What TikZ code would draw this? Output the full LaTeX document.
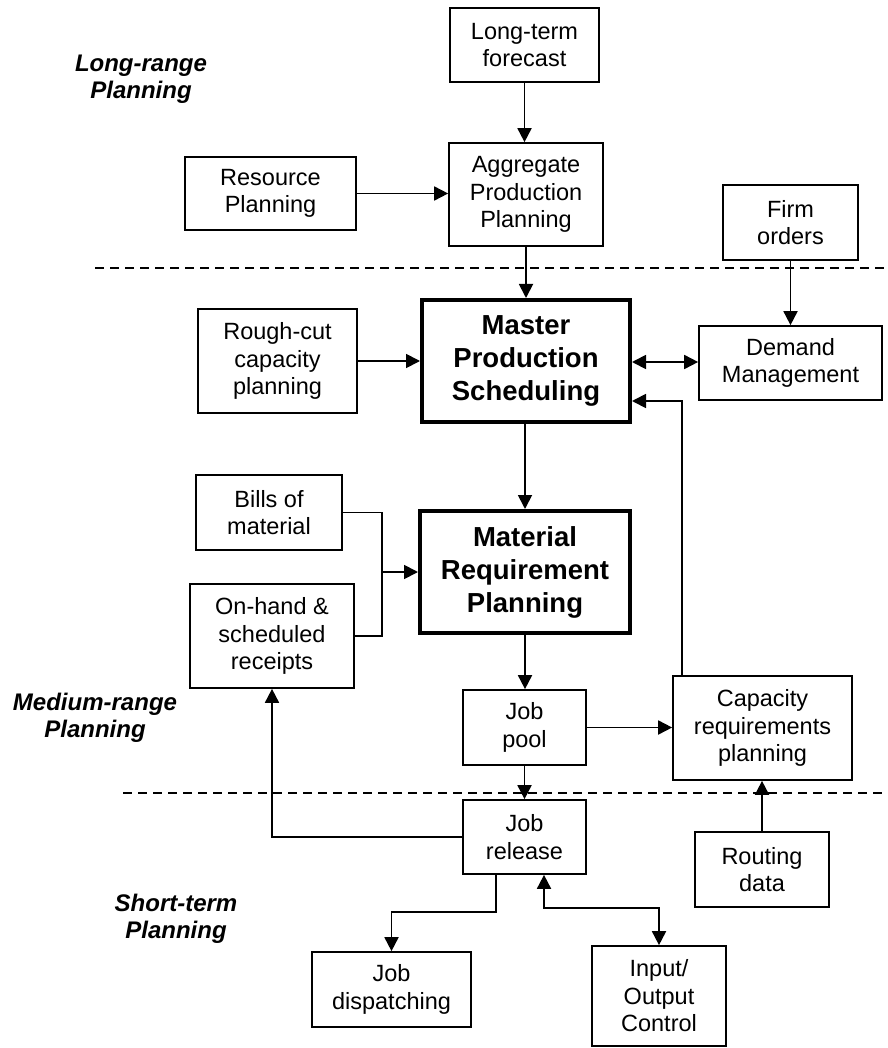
\documentclass[tikz,border=0pt]{standalone}
\usepackage{fontspec}
\setmainfont{Liberation Sans}
\usetikzlibrary{arrows.meta}
\begin{document}
\begin{tikzpicture}[x=1pt,y=-1pt,
  box/.style={draw, line width=1.7pt, align=center, inner sep=0pt, font=\fontsize{23.5}{27.5}\selectfont},
  bigbox/.style={draw, line width=4pt, align=center, inner sep=0pt, font=\bfseries\fontsize{27.5}{33}\selectfont},
  conn/.style={line width=1.8pt, -{Triangle[length=14pt,width=14pt]}},
  biconn/.style={line width=1.8pt, {Triangle[length=14pt,width=14pt]}-{Triangle[length=14pt,width=14pt]}},
  plain/.style={line width=1.8pt},
  divider/.style={line width=1.3pt, dash pattern=on 9pt off 6pt},
  lbl/.style={align=center, font=\bfseries\itshape\fontsize{24}{27}\selectfont}]
\fill[white] (0,0) rectangle (887,1048);
\useasboundingbox (0,0) rectangle (887,1048);

% boxes
\node[box, minimum width=149pt, minimum height=74pt] (ltf) at (524.5,45) {Long-term\\forecast};
\node[box, minimum width=154pt, minimum height=103pt] (app) at (526,194.5) {Aggregate\\Production\\Planning};
\node[box, minimum width=171pt, minimum height=73pt] (rp) at (270.5,193.5) {Resource\\Planning};
\node[box, minimum width=135pt, minimum height=75pt] (firm) at (790.5,222.5) {Firm\\orders};
\node[box, minimum width=159pt, minimum height=104pt] (rc) at (277.5,361) {Rough-cut\\capacity\\planning};
\node[bigbox, minimum width=208pt, minimum height=122pt] (mps) at (526,361) {Master\\Production\\Scheduling};
\node[box, minimum width=183pt, minimum height=74pt] (dm) at (790.5,363) {Demand\\Management};
\node[box, minimum width=146pt, minimum height=75pt] (bills) at (269,512.5) {Bills of\\material};
\node[box, minimum width=164pt, minimum height=104pt] (onhand) at (272,636) {On-hand \&\\scheduled\\receipts};
\node[bigbox, minimum width=210pt, minimum height=122pt] (mrp) at (525,572) {Material\\Requirement\\Planning};
\node[box, minimum width=123pt, minimum height=75pt] (pool) at (524.5,727.5) {Job\\pool};
\node[box, minimum width=179pt, minimum height=104pt] (crp) at (762.5,728) {Capacity\\requirements\\planning};
\node[box, minimum width=123pt, minimum height=74pt] (rel) at (524.5,837) {Job\\release};
\node[box, minimum width=134pt, minimum height=75pt] (route) at (762,869.5) {Routing\\data};
\node[box, minimum width=159pt, minimum height=75pt] (disp) at (391.5,989.5) {Job\\dispatching};
\node[box, minimum width=134pt, minimum height=100pt] (io) at (659,996) {Input/\\Output\\Control};

% side labels
\node[lbl] (lrp) at (141,79) {Long-range\\Planning};
\node[lbl] (mrpl) at (95,718) {Medium-range\\Planning};
\node[lbl] (strp) at (176,919) {Short-term\\Planning};

% dividers
\coordinate (d1a) at (95,268);  \coordinate (d1b) at (887,268);
\coordinate (d2a) at (123,793); \coordinate (d2b) at (887,793);
\draw[divider] (d1a) -- (d1b);
\draw[divider] (d2a) -- (d2b);

% helper coordinates
\coordinate (fb) at (682,401);
\coordinate (jn) at (382,572);
\coordinate (dd) at (496,912);
\coordinate (ii) at (544,908);

% connectors
\draw[conn] (ltf.south) -- (ltf.south |- app.north);
\draw[conn] (rp.east) -- (rp.east -| app.west);
\draw[conn] (app.south) -- (app.south |- mps.north);
\draw[conn] (firm.south) -- (firm.south |- dm.north);
\draw[conn] (rc.east) -- (rc.east -| mps.west);
\draw[biconn] (mps.east |- 0,362) -- (dm.west |- 0,362);
\draw[conn] (fb |- crp.north) -- (fb) -- (fb -| mps.east);
\draw[conn] (mps.south -| mrp.north) -- (mrp.north);
\draw[plain] (bills.east) -| (jn |- onhand.east) -- (onhand.east);
\draw[conn] (jn) -- (jn -| mrp.west);
\draw[conn] (mrp.south) -- (mrp.south |- pool.north);
\draw[conn] (pool.east) -- (pool.east -| crp.west);
\draw[conn] (pool.south) -- (rel.north);
\draw[conn] (rel.west) -| (onhand.south);
\draw[conn] (dd |- rel.south) -- (dd) -| (disp.north);
\draw[biconn] (ii |- rel.south) -- (ii) -| (io.north);
\draw[conn] (route.north) -- (route.north |- crp.south);
\end{tikzpicture}
\end{document}
